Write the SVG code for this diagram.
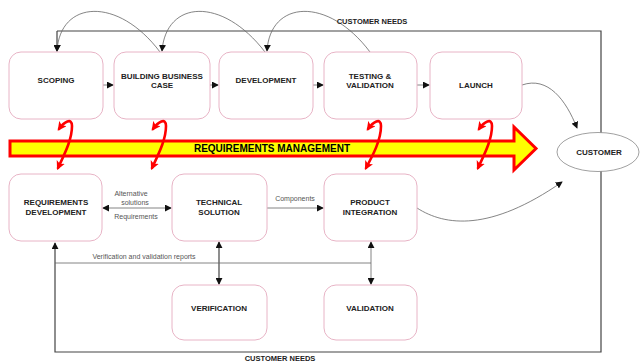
<svg xmlns="http://www.w3.org/2000/svg" width="640" height="362" viewBox="0 0 640 362">
<defs>
<style>
.box{fill:#fff;stroke:#e8b4c6;stroke-width:1}
.sh{fill:none;stroke:#999;stroke-width:1}
.lbl{font-family:"Liberation Sans",Arial,sans-serif;font-size:8px;font-weight:bold;fill:#222;text-anchor:middle}
.sm{font-family:"Liberation Sans",Arial,sans-serif;font-size:7px;fill:#555;text-anchor:middle}
.ln{fill:none;stroke:#666;stroke-width:0.8}
.dk{fill:none;stroke:#444;stroke-width:1.2}
.red{fill:none;stroke:#f00;stroke-width:2.6;stroke-linecap:round}
</style>
<marker id="ah" viewBox="0 0 8 8" refX="7" refY="4" markerWidth="7" markerHeight="7" markerUnits="userSpaceOnUse" orient="auto-start-reverse"><path d="M0,0 L8,4 L0,8 z" fill="#111"/></marker>
<marker id="rh" viewBox="0 0 8 8" refX="6" refY="4" markerWidth="9" markerHeight="9" markerUnits="userSpaceOnUse" orient="auto-start-reverse"><path d="M0,0 L8,4 L0,8 L2,4 z" fill="#f00"/></marker>
</defs>
<rect width="640" height="362" fill="#fff"/>

<g id="connectors">
<!-- customer needs loop -->
<path class="dk" d="M57,31 H601 V352 H55 V243" marker-end="url(#ah)"/>
<path class="dk" d="M57,31 V51" marker-end="url(#ah)"/>
<!-- back loops -->
<path class="ln" d="M160,52 C118,-4 60,0 57,51" marker-end="url(#ah)"/>
<path class="ln" d="M265,52 C222,-4 166,0 162,51" marker-end="url(#ah)"/>
<path class="ln" d="M370,52 C328,-4 270,0 267,51" marker-end="url(#ah)"/>
<!-- forward arrows -->
<path class="ln" d="M103,85 H113" marker-end="url(#ah)"/>
<path class="ln" d="M210,85 H218" marker-end="url(#ah)"/>
<path class="ln" d="M313,85 H323" marker-end="url(#ah)"/>
<path class="ln" d="M417,85 H429" marker-end="url(#ah)"/>
<!-- to customer -->
<path class="ln" d="M522,85 C548,76 566,100 577,128" marker-end="url(#ah)"/>
<path class="ln" d="M417,208 C445,226 490,232 562,182" marker-end="url(#ah)"/>
<!-- bottom connectors -->
<path class="ln" d="M103,208 H171" marker-start="url(#ah)" marker-end="url(#ah)"/>
<path class="ln" d="M267,208 H323" marker-end="url(#ah)"/>
<path class="dk" d="M219,242 V284" marker-start="url(#ah)" marker-end="url(#ah)"/>
<path class="ln" d="M371,242 V284" marker-start="url(#ah)" marker-end="url(#ah)"/>
<path class="ln" d="M55,263 H371"/>
<text class="sm" x="131" y="196">Alternative</text>
<text class="sm" x="135" y="205">solutions</text>
<text class="sm" x="136" y="219">Requirements</text>
<text class="sm" x="295" y="201">Components</text>
<text class="sm" x="144" y="259">Verification and validation reports</text>
<text class="lbl" x="372" y="24" style="font-size:7.5px">CUSTOMER NEEDS</text>
<text class="lbl" x="280" y="361" style="font-size:7.5px">CUSTOMER NEEDS</text>
</g>

<g id="req-mgmt">
<polygon points="10,141 514,141 514,127 536,148.5 514,170 514,156 10,156" fill="#ff0" stroke="#f00" stroke-width="3" stroke-linejoin="miter"/>
<text class="lbl" x="272" y="152" style="font-size:10px;fill:#000">REQUIREMENTS MANAGEMENT</text>
</g>

<g id="scoping"><rect class="box" x="9" y="52" width="94" height="67" rx="12"/><text class="lbl" x="56" y="83">SCOPING</text></g>
<g id="business-case"><rect class="box" x="114" y="52" width="96" height="67" rx="12"/><text class="lbl" x="162" y="79">BUILDING BUSINESS</text><text class="lbl" x="162" y="88">CASE</text></g>
<g id="development"><rect class="box" x="219" y="52" width="94" height="67" rx="12"/><text class="lbl" x="266" y="83">DEVELOPMENT</text></g>
<g id="testing"><rect class="box" x="324" y="52" width="93" height="67" rx="12"/><text class="lbl" x="370" y="79">TESTING &amp;</text><text class="lbl" x="370" y="88">VALIDATION</text></g>
<g id="launch"><rect class="box" x="430" y="52" width="92" height="67" rx="12"/><text class="lbl" x="476" y="88">LAUNCH</text></g>

<g id="customer"><ellipse cx="598" cy="152" rx="41" ry="19.5" fill="#fff" stroke="#888" stroke-width="0.8"/><text class="lbl" x="599" y="155">CUSTOMER</text></g>

<g id="req-dev"><rect class="box" x="9" y="174" width="93" height="67" rx="12"/><text class="lbl" x="56" y="205">REQUIREMENTS</text><text class="lbl" x="56" y="215">DEVELOPMENT</text></g>
<g id="tech-sol"><rect class="box" x="172" y="174" width="95" height="67" rx="12"/><text class="lbl" x="219" y="205">TECHNICAL</text><text class="lbl" x="219" y="215">SOLUTION</text></g>
<g id="prod-int"><rect class="box" x="324" y="174" width="93" height="67" rx="12"/><text class="lbl" x="370" y="205">PRODUCT</text><text class="lbl" x="370" y="215">INTEGRATION</text></g>
<g id="verification"><rect class="box" x="172" y="285" width="95" height="55" rx="12"/><text class="lbl" x="219" y="311">VERIFICATION</text></g>
<g id="validation"><rect class="box" x="324" y="285" width="93" height="55" rx="12"/><text class="lbl" x="370" y="311">VALIDATION</text></g>

<g id="red-arrows">
<path class="red" d="M59,129 C64,122 72,117 72,126 C72,140 64,155 58,168" marker-start="url(#rh)" marker-end="url(#rh)"/>
<path class="red" d="M153,129 C158,122 166,117 166,126 C166,140 158,155 152,168" marker-start="url(#rh)" marker-end="url(#rh)"/>
<path class="red" d="M368,129 C373,122 381,117 381,126 C381,140 373,155 366,168" marker-start="url(#rh)" marker-end="url(#rh)"/>
<path class="red" d="M479,129 C484,122 492,117 492,126 C492,140 484,155 478,168" marker-start="url(#rh)" marker-end="url(#rh)"/>
</g>
</svg>
